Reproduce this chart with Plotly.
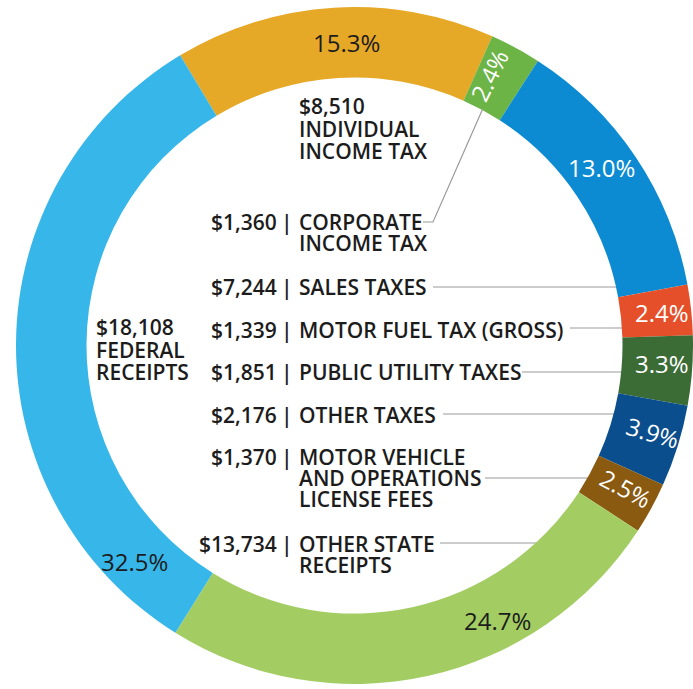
import math
import plotly.graph_objects as go

# ---------------- data ----------------
categories = ["Individual Income Tax", "Corporate Income Tax", "Sales Taxes",
              "Motor Fuel Tax (Gross)", "Public Utility Taxes", "Other Taxes",
              "Motor Vehicle and Operations License Fees", "Other State Receipts",
              "Federal Receipts"]
amounts = [8510, 1360, 7244, 1339, 1851, 2176, 1370, 13734, 18108]
pct_labels = ["15.3%", "2.4%", "13.0%", "2.4%", "3.3%", "3.9%", "2.5%", "24.7%", "32.5%"]
name_lines = [["INDIVIDUAL", "INCOME TAX"], ["CORPORATE", "INCOME TAX"], ["SALES TAXES"],
              ["MOTOR FUEL TAX (GROSS)"], ["PUBLIC UTILITY TAXES"], ["OTHER TAXES"],
              ["MOTOR VEHICLE", "AND OPERATIONS", "LICENSE FEES"],
              ["OTHER STATE", "RECEIPTS"], ["FEDERAL", "RECEIPTS"]]
value_labels = ["$" + f"{v:,}" for v in amounts]

# ---------------- styles / layout ----------------
W, H = 693, 689
colors = ["#E6A827", "#6DB446", "#0C8BD3", "#E5502A", "#3C6C36",
          "#0B4E8E", "#8A5A10", "#A3CD63", "#37B7E9"]
pct_colors = ["#1C1C1C", "#FFFFFF", "#FFFFFF", "#FFFFFF", "#FFFFFF",
              "#FFFFFF", "#FFFFFF", "#1C1C1C", "#1C1C1C"]
pct_orient = ["h", "radial", "h", "h", "h", "tangential", "tangential", "h", "h"]
pct_angle_shift = [2, -2, -2, 0, -1, -1, -1, -15, -45]
pct_radius = [303, 302, 305, 309, 308, 311, 307, 310, 308]
ROT = -31
FONT = "Open Sans"

# pie geometry (pixels)
dx0, dx1 = 16, 693
dy_top, dy_bot = 7, 684
CX = (dx0 + dx1) / 2
CY = (dy_top + dy_bot) / 2
R_OUT = min(dx1 - dx0, dy_bot - dy_top) / 2
R_IN = 268
HOLE = R_IN / R_OUT


def px(x):
    return x / W


def py(y):
    return 1 - y / H


fig = go.Figure(go.Pie(
    labels=categories, values=amounts, sort=False, direction="clockwise",
    rotation=ROT, hole=HOLE, textinfo="none", hoverinfo="label+value+percent",
    marker=dict(colors=colors, line=dict(width=0)),
    domain=dict(x=[px(dx0), px(dx1)], y=[py(dy_bot), py(dy_top)]),
    showlegend=False,
))

annotations = []
# percentage labels on the ring, placed from the slice angles
total = sum(amounts)
cum = 0
for i, v in enumerate(amounts):
    mid = ROT + (cum + v / 2) / total * 360
    cum += v
    ang = mid + pct_angle_shift[i]
    r = pct_radius[i]
    x = CX + r * math.sin(math.radians(ang))
    y = CY - r * math.cos(math.radians(ang))
    ta = ang - 90 if pct_orient[i] in ("radial", "tangential") else 0
    annotations.append(dict(
        x=px(x), y=py(y), xref="paper", yref="paper", text=pct_labels[i],
        showarrow=False, textangle=ta, xanchor="center", yanchor="middle",
        font=dict(family=FONT, size=24, color=pct_colors[i])))

LBL = dict(family=FONT, size=21, color="#1C1C1C", weight=600)
LS = 21


def txt(x, y, t, anchor):
    annotations.append(dict(x=px(x), y=py(y), xref="paper", yref="paper", text=t,
                            showarrow=False, xanchor=anchor, yanchor="middle",
                            font=LBL))


# stacked labels (value above names)
stacked = {0: (297, [106, 129, 151]), 8: (94, [327, 350, 372])}
for i, (x, ys) in stacked.items():
    lines = [value_labels[i]] + name_lines[i]
    for t, y in zip(lines, ys):
        txt(x, y, t, "left")

# "value | name" labels
pipe_first_y = {1: 222, 2: 287, 3: 330, 4: 372, 5: 415, 6: 457, 7: 544}
for i, y0 in pipe_first_y.items():
    txt(279, y0, value_labels[i], "right")
    txt(287, y0, "|", "center")
    for k, t in enumerate(name_lines[i]):
        txt(297, y0 + k * LS, t, "left")

# leader lines
shapes = []
LINE = dict(color="#9A9A9A", width=1.2)


def ring_x(y, extra=6):
    return CX + math.sqrt(max(R_IN ** 2 - (y - CY) ** 2, 0)) + extra


leaders = [(287, 433), (328, 570), (372, 522), (414, 443), (478, 485), (543, 440)]
for y, xs in leaders:
    shapes.append(dict(type="line", xref="paper", yref="paper", layer="below",
                       x0=px(xs), y0=py(y), x1=px(ring_x(y)), y1=py(y), line=LINE))
# corporate leader: stub then diagonal to the slice
cum_c = amounts[0] + amounts[1] / 2
ang_c = math.radians(ROT + cum_c / total * 360)
ex = CX + (R_IN + 4) * math.sin(ang_c)
ey = CY - (R_IN + 4) * math.cos(ang_c)
shapes.append(dict(type="path", xref="paper", yref="paper", layer="below",
                   path=f"M {px(423)} {py(222)} L {px(433)} {py(222)} L {px(ex)} {py(ey)}",
                   line=LINE))

fig.update_layout(
    width=W, height=H, margin=dict(l=0, r=0, t=0, b=0),
    paper_bgcolor="white", plot_bgcolor="white",
    annotations=annotations, shapes=shapes,
)

fig.write_html("out.html", config={"displayModeBar": False},
               post_script="document.body.style.margin='0';document.body.style.overflow='hidden';")
